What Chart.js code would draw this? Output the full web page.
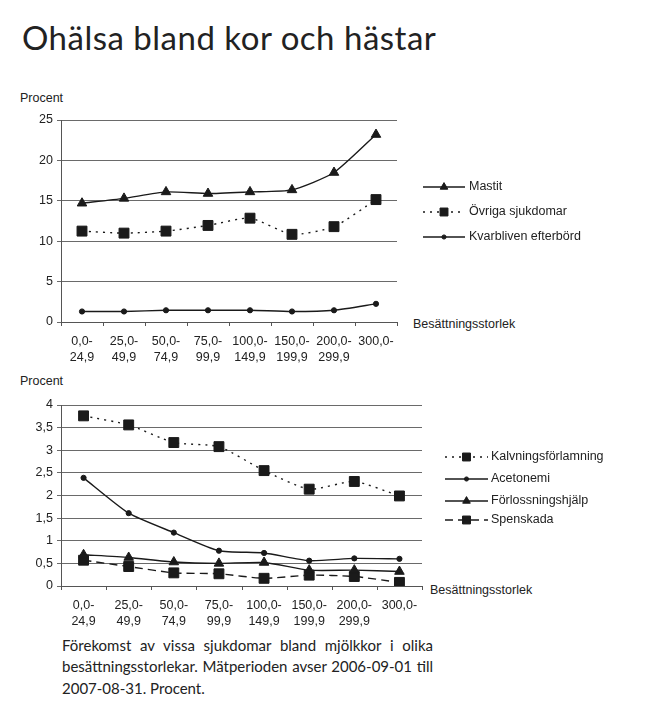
<!DOCTYPE html>
<html><head><meta charset="utf-8">
<script src="https://cdn.jsdelivr.net/npm/chart.js@4.4.1/dist/chart.umd.min.js"></script>
<style>
body{margin:0;background:#fff;width:648px;height:721px;position:relative;overflow:hidden;font-family:"Liberation Sans",Arial,sans-serif;color:#222;}
.abs{position:absolute;white-space:nowrap;}
#title{left:22px;top:20.7px;font-family:Lato,"Open Sans",sans-serif;font-size:33px;line-height:33px;letter-spacing:0.5px;color:#222;}
.ylab{font-size:12.5px;line-height:14px;}
.xlab{font-size:12.5px;line-height:14px;}
#caption{position:absolute;left:62px;top:634.5px;width:371px;font-family:Lato,"Open Sans",sans-serif;font-size:15px;line-height:21.5px;text-align:justify;color:#222;}
canvas{position:absolute;left:0;}
</style>
</head><body>
<div id="title" class="abs">Ohälsa bland kor och hästar</div>
<div class="abs ylab" style="left:20px;top:91px;">Procent</div>
<div class="abs xlab" style="left:413px;top:317px;">Besättningsstorlek</div>
<div class="abs ylab" style="left:20px;top:374px;">Procent</div>
<div class="abs xlab" style="left:430px;top:583px;">Besättningsstorlek</div>
<div style="position:absolute;left:0;top:80px;width:648px;height:290px;"><canvas id="c1"></canvas></div>
<div style="position:absolute;left:0;top:370px;width:648px;height:265px;"><canvas id="c2"></canvas></div>
<div id="caption">Förekomst av vissa sjukdomar bland mjölkkor i olika besättningsstorlekar. Mätperioden avser 2006-09-01 till 2007-08-31. Procent.</div>
<script>
// ---- data ----
const sizeLabels = [['0,0-','24,9'],['25,0-','49,9'],['50,0-','74,9'],['75,0-','99,9'],['100,0-','149,9'],['150,0-','199,9'],['200,0-','299,9'],['300,0-','']];
const topNames = ['Mastit','Övriga sjukdomar','Kvarbliven efterbörd'];
const mastit = [14.7, 15.3, 16.1, 15.9, 16.1, 16.35, 18.5, 23.2];
const ovriga = [11.25, 11.0, 11.25, 11.95, 12.85, 10.85, 11.8, 15.15];
const kvarbliven = [1.3, 1.3, 1.45, 1.45, 1.45, 1.3, 1.45, 2.25];
const bottomNames = ['Kalvningsförlamning','Acetonemi','Förlossningshjälp','Spenskada'];
const kalvning = [3.76, 3.56, 3.17, 3.08, 2.55, 2.14, 2.31, 1.99];
const acetonemi = [2.39, 1.61, 1.18, 0.78, 0.73, 0.56, 0.61, 0.60];
const forlossning = [0.69, 0.63, 0.53, 0.50, 0.52, 0.35, 0.35, 0.32];
const spenskada = [0.57, 0.43, 0.29, 0.27, 0.17, 0.24, 0.21, 0.08];
const topYTicks = {min:0, max:25, step:5};
const bottomYTicks = {min:0, max:4, step:0.5};

const INK = '#1a1a1a';
const FONT = '"Liberation Sans", Arial, sans-serif';

const legendPlugin = {
  id:'manualLegend',
  afterDraw(chart, args, opts){
    const ctx = chart.ctx;
    chart.data.datasets.forEach((ds,i)=>{
      const y = opts.ys[i];
      ctx.save();
      ctx.strokeStyle = ds.borderColor; ctx.lineWidth = ds.borderWidth;
      ctx.setLineDash(ds.borderDash || []);
      ctx.beginPath(); ctx.moveTo(opts.x0, y); ctx.lineTo(opts.x1, y); ctx.stroke();
      ctx.setLineDash([]);
      ctx.fillStyle = ds.pointBackgroundColor; ctx.strokeStyle = ds.pointBorderColor; ctx.lineWidth = 1;
      Chart.helpers.drawPoint(ctx, {pointStyle: ds.pointStyle, radius: ds.pointRadius * opts.scale, rotation: 0, borderWidth: 1}, (opts.x0 + opts.x1) / 2, y);
      ctx.fillStyle = '#222'; ctx.font = '12.5px ' + FONT; ctx.textBaseline = 'middle'; ctx.textAlign = 'left';
      ctx.fillText(ds.label, opts.tx, y);
      ctx.restore();
    });
  }
};

// short tick marks at category boundaries below the x axis
const xTickPlugin = {
  id:'xTickMarks',
  afterDraw(chart){
    const s = chart.scales.x, ctx = chart.ctx;
    const n = chart.data.labels.length;
    const step = s.getPixelForValue(1) - s.getPixelForValue(0);
    const start = s.getPixelForValue(0) - step / 2;
    ctx.save(); ctx.strokeStyle = '#555'; ctx.lineWidth = 1;
    for (let i = 0; i <= n; i++) {
      const x = Math.round(start + i * step) + 0.5;
      ctx.beginPath(); ctx.moveTo(x, s.top); ctx.lineTo(x, s.top + 4); ctx.stroke();
    }
    ctx.restore();
  }
};

function ds(label, data, style, radius, dash){
  return {label, data, borderColor: INK, borderWidth: 1.4, borderDash: dash || [],
    pointStyle: style, pointRadius: radius, pointHoverRadius: radius,
    pointBackgroundColor: INK, pointBorderColor: INK, pointBorderWidth: 1,
    tension: 0.2, fill: false};
}

function scales(yt, xh, yw){
  return {
    x:{type:'category', offset:true,
       grid:{display:false},
       border:{display:true, color:'#555', width:1},
       ticks:{color:'#222', font:{family:FONT, size:12.5, lineHeight:1.32}, padding:3, maxRotation:0, minRotation:0, autoSkip:false},
       afterFit(s){ s.height = xh; }},
    y:{min:yt.min, max:yt.max,
       grid:{color:'#6a6a6a', lineWidth:1, tickLength:4, drawTicks:true},
       border:{color:'#555', width:1},
       ticks:{stepSize:yt.step, color:'#222', font:{family:FONT, size:12.5}, padding:4,
              callback:(v)=> String(v).replace('.', ',')},
       afterFit(s){ s.width = yw; }}
  };
}

new Chart(document.getElementById('c1'), {
  type:'line',
  data:{labels: sizeLabels, datasets:[
    ds(topNames[0], mastit, 'triangle', 5.5),
    ds(topNames[1], ovriga, 'rect', 7, [2,5]),
    ds(topNames[2], kvarbliven, 'circle', 2.6)
  ]},
  options:{responsive:true, maintainAspectRatio:false, animation:false, events:[],
    layout:{padding:{left:0, right:251, top:40, bottom:0}},
    scales: scales(topYTicks, 48, 61),
    plugins:{legend:{display:false}, tooltip:{enabled:false},
      manualLegend:{x0:423, x1:465, tx:469, ys:[107, 132, 157], scale:0.8}}
  },
  plugins:[legendPlugin, xTickPlugin]
});

new Chart(document.getElementById('c2'), {
  type:'line',
  data:{labels: sizeLabels, datasets:[
    ds(bottomNames[0], kalvning, 'rect', 7, [2,5]),
    ds(bottomNames[1], acetonemi, 'circle', 2.6),
    ds(bottomNames[2], forlossning, 'triangle', 5.5),
    ds(bottomNames[3], spenskada, 'rect', 7, [8,5])
  ]},
  options:{responsive:true, maintainAspectRatio:false, animation:false, events:[],
    layout:{padding:{left:0, right:226, top:35, bottom:0}},
    scales: scales(bottomYTicks, 49, 61),
    plugins:{legend:{display:false}, tooltip:{enabled:false},
      manualLegend:{x0:445, x1:488, tx:491, ys:[87, 109, 131, 150], scale:0.8}}
  },
  plugins:[legendPlugin, xTickPlugin]
});
</script>
</body></html>
